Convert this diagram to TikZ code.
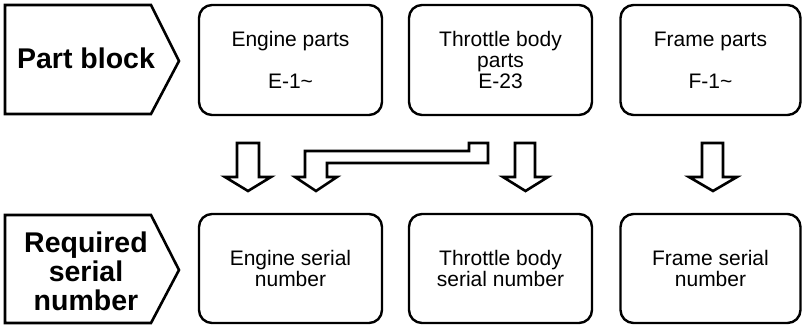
\documentclass[tikz,border=0pt]{standalone}
\usepackage{fontspec}
\setmainfont{Liberation Sans}
\begin{document}
\begin{tikzpicture}[x=1pt,y=-1pt,
  partbox/.style={draw,line width=2.4pt,rounded corners=13pt,minimum width=183pt,minimum height=110pt,align=center,inner sep=0pt,font=\fontsize{21}{21}\selectfont},
  headtext/.style={align=center,font=\fontsize{28.5}{29}\selectfont\bfseries},
  pent/.style={line width=2.6pt,line join=miter},
  blockarrow/.style={draw,line width=2.6pt,line join=miter,fill=white}]
\useasboundingbox (0,0) rectangle (809,326);
% heading pentagons
\draw[pent] (5,5) -- (151,5) -- (179,61) -- (151,114) -- (5,114) -- cycle;
\node[headtext] (hpart) at (86,58) {Part block};
\draw[pent] (5,215) -- (151,215) -- (179,270) -- (151,323) -- (5,323) -- cycle;
\node[headtext] (hreq) at (86,271) {Required\\serial\\number};
% top boxes
\node[partbox] (eng) at (290.5,60) {Engine parts\\[21pt]E-1\textasciitilde};
\node[partbox] (thr) at (500.5,60) {Throttle body\\parts\\E-23};
\node[partbox,minimum width=180pt] (frm) at (710.5,60) {Frame parts\\[21pt]F-1\textasciitilde};
% bottom boxes
\node[partbox,minimum height=109pt] (engs) at (290.5,268.5) {Engine serial\\number};
\node[partbox,minimum height=109pt] (thrs) at (500.5,268.5) {Throttle body\\serial number};
\node[partbox,minimum height=109pt,minimum width=180pt] (frms) at (710.5,268.5) {Frame serial\\number};
% block arrows
\draw[blockarrow] (237,143) -- (259,143) -- (259,177) -- (271,177) -- (248,191) -- (225,177) -- (237,177) -- cycle;
\draw[blockarrow] (488,143) -- (469,143) -- (469,151) -- (305,151) -- (305,177) -- (295,177) -- (316,191) -- (337,177) -- (327,177) -- (327,163) -- (488,163) -- cycle;
\draw[blockarrow] (515,143) -- (535,143) -- (535,177) -- (548,177) -- (525.5,191) -- (503,177) -- (515,177) -- cycle;
\draw[blockarrow] (702,143) -- (723,143) -- (723,177) -- (737,177) -- (713,191) -- (689,177) -- (702,177) -- cycle;
\end{tikzpicture}
\end{document}
